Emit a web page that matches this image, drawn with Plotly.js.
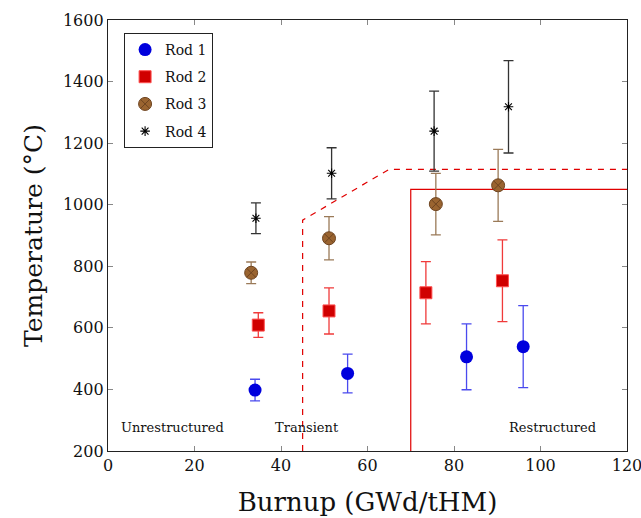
<!DOCTYPE html>
<html>
<head>
<meta charset="utf-8">
<script src="https://cdn.plot.ly/plotly-3.0.1.min.js"></script>
<style>html,body{margin:0;padding:0;background:#fff;}#chart{width:641px;height:518px;}</style>
</head>
<body>
<div id="chart"></div>
<script>
// Data
const rod1X = [34.0, 55.4, 82.9, 96.0];
const rod1Y = [398, 452, 506, 539];
const rod1Err = [35, 63, 107, 133];

const rod2X = [34.75, 51.1, 73.5, 91.2];
const rod2Y = [609, 655, 714, 753];
const rod2Err = [40, 75, 101, 133];

const rod3X = [33.1, 51.1, 75.8, 90.2];
const rod3Y = [779, 891, 1002, 1063];
const rod3Err = [35, 70, 100, 117];

const rod4X = [34.2, 51.7, 75.4, 92.6];
const rod4Y = [956, 1102, 1239, 1318];
const rod4Err = [50, 83, 130, 150];

const transientX = [45, 45, 65, 120];
const transientY = [200, 950, 1115, 1115];
const restructX = [70, 70, 120];
const restructY = [200, 1050, 1050];

const regionLabels = ['Unrestructured', 'Transient', 'Restructured'];
const regionLabelX = [14.8, 46, 102.7];
const regionLabelY = [277, 277, 277];

const xTicks = [0, 20, 40, 60, 80, 100, 120];
const yTicks = [200, 400, 600, 800, 1000, 1200, 1400, 1600];

const FONT = 'DejaVu Serif, Liberation Serif, serif';

function errTrace(name, x, y, err, marker, errColor, group) {
  return {
    type: 'scatter', mode: 'markers', name: name, x: x, y: y,
    legendgroup: group,
    marker: marker,
    error_y: {type: 'data', array: err, visible: true, color: errColor, thickness: 1.3, width: 5}
  };
}

const traces = [
  {type: 'scatter', mode: 'lines', x: transientX, y: transientY, showlegend: false, hoverinfo: 'skip',
   line: {color: '#e00000', width: 1.2, dash: '6px,6px'}},
  {type: 'scatter', mode: 'lines', x: restructX, y: restructY, showlegend: false, hoverinfo: 'skip',
   line: {color: '#e00000', width: 1.2}},
  errTrace('Rod 1', rod1X, rod1Y, rod1Err, {symbol: 'circle', size: 13, color: '#0000dd', line: {width: 0}}, '#4a4aee', 'g1'),
  errTrace('Rod 2', rod2X, rod2Y, rod2Err, {symbol: 'square', size: 12, color: '#d00000', line: {width: 1, color: '#ff5050'}}, '#f03a3a', 'g2'),
  errTrace('Rod 3', rod3X, rod3Y, rod3Err, {symbol: 'circle-x', size: 13, color: '#9a6430', line: {width: 1, color: '#6e4420'}}, '#9a7a58', 'g3'),
  errTrace('Rod 4', rod4X, rod4Y, rod4Err, {symbol: 'asterisk-open', size: 8, color: '#000', line: {width: 1.1, color: '#000'}}, '#333', 'g4')
];

const annotations = regionLabels.map((t, i) => ({
  text: t, x: regionLabelX[i], y: regionLabelY[i], xref: 'x', yref: 'y',
  showarrow: false, font: {family: FONT, size: 13, color: '#111'}
}));

const axisCommon = {
  showgrid: false, zeroline: false, showline: true, linecolor: '#222', linewidth: 1.2,
  mirror: 'allticks', ticks: 'inside', ticklen: 5, tickcolor: '#888', tickwidth: 1,
  ticklabeloverflow: 'allow',
  tickfont: {family: FONT, size: 16, color: '#111'}
};

const layout = {
  width: 641, height: 518,
  margin: {l: 108, r: 14, t: 20, b: 67},
  paper_bgcolor: '#fff', plot_bgcolor: '#fff',
  showlegend: true,
  legend: {
    x: 0.031, y: 0.97, xanchor: 'left', yanchor: 'top',
    bgcolor: '#fff', bordercolor: '#222', borderwidth: 1,
    font: {family: FONT, size: 14, color: '#111'},
    traceorder: 'grouped', tracegroupgap: 6
  },
  xaxis: Object.assign({}, axisCommon, {
    range: [0, 120], tickvals: xTicks,
    title: {text: 'Burnup (GWd/tHM)', font: {family: FONT, size: 26, color: '#111'}, standoff: 18}
  }),
  yaxis: Object.assign({}, axisCommon, {
    range: [200, 1600], tickvals: yTicks,
    title: {text: 'Temperature (°C)', font: {family: FONT, size: 25, color: '#111'}, standoff: 13}
  }),
  annotations: annotations
};

Plotly.newPlot('chart', traces, layout, {displayModeBar: false, staticPlot: true});
</script>
</body>
</html>
